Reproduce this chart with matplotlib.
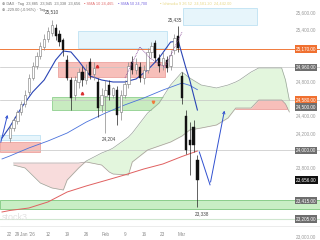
import matplotlib
matplotlib.use("Agg")
import matplotlib.pyplot as plt
import matplotlib.transforms as mtransforms
from matplotlib.patches import Rectangle
import numpy as np

plt.rcParams['font.family'] = ['Liberation Sans', 'DejaVu Sans']

# ---------------- data ----------------
# trading-day index 0 = 22 Dec 2025
date_pos = [0, 2, 4.7, 10, 15, 20, 25, 30, 35, 40, 45]
date_labels = ["22", "29", "Jan '26", "12", "19", "26", "Feb", "9", "16", "23", "Mar"]

opens = [24140, 24255, 24340, 24440, 24535, 24675, 24835, 24975, 25090, 25195,
         25285, 25355, 25415, 25345, 25275, 25045, 24810, 24640, 24790, 24905,
         24810, 25020, 24880, 24790, 24525, 24625, 24755, 24640, 24695, 24440,
         24640, 24765, 25020, 24930, 24960, 24835, 24930, 25135, 25240, 25065,
         24985, 25045, 24975, 25160, 25320, 24860, 24395, 24120, 24270, 23885]
highs = [24290, 24385, 24465, 24570, 24695, 24880, 25020, 25135, 25250, 25345,
         25425, 25510, 25460, 25390, 25300, 25100, 24845, 24860, 24950, 24975,
         24995, 25065, 25020, 24835, 24720, 24810, 24810, 24730, 24745, 24695,
         24810, 25020, 25090, 25065, 25020, 24985, 25180, 25250, 25275, 25110,
         25135, 25090, 25160, 25345, 25435, 24905, 24465, 24325, 24350, 23945]
lows = [24095, 24220, 24305, 24405, 24500, 24640, 24810, 24940, 25055, 25160,
        25250, 25320, 25275, 25205, 25090, 24810, 24465, 24580, 24720, 24745,
        24765, 24825, 24810, 24385, 24440, 24204, 24580, 24605, 24290, 24350,
        24605, 24720, 24880, 24880, 24790, 24765, 24895, 25065, 25020, 24905,
        24930, 24905, 24930, 25115, 25135, 24535, 23955, 23715, 23980, 23338]
closes = [24255, 24350, 24440, 24535, 24640, 24835, 24975, 25090, 25205, 25285,
          25380, 25450, 25320, 25250, 25160, 24835, 24605, 24810, 24905, 24810,
          24930, 24870, 24950, 24490, 24640, 24695, 24640, 24720, 24410, 24640,
          24765, 24975, 24930, 25000, 24835, 24930, 25135, 25205, 25065, 24975,
          25065, 24950, 25100, 25300, 25180, 24605, 24005, 24060, 24060, 23656]

ma_fast_idx = [-2, 0, 3, 6, 9, 12, 14, 16, 18, 21, 24, 27, 30, 33, 36, 39, 42, 44, 46, 47, 49]
ma_fast = [24142, 24269, 24488, 24673, 24812, 25043, 25147, 25136, 25032, 24858, 24812,
           24789, 24789, 24824, 24928, 25066, 25251, 25263, 24951, 24812, 24465]

ma_slow_idx = [-2, 0, 5, 10, 15, 20, 25, 30, 35, 40, 45, 47, 49]
ma_slow = [23899, 23933, 24026, 24107, 24199, 24326, 24430, 24523, 24604, 24696, 24777, 24750, 24700]

ma_long_idx = [-2, 0, 5, 10, 15, 20, 25, 30, 35, 40, 45, 49]
ma_long = [23286, 23303, 23332, 23402, 23517, 23587, 23650, 23714, 23783, 23841, 23928, 23991]

span_idx = [1, 4, 8, 11, 14, 15, 18, 20, 24, 26, 27, 31, 32, 36, 39, 42, 45, 47, 50, 54,
            57, 59, 60, 63, 65, 71, 72, 73]
span_a = [23829, 23795, 23621, 23564, 23540, 23656, 23795, 23876, 23968, 24003, 24026,
          24153, 24199, 24430, 24546, 24754, 24904, 24835, 24754, 24720, 24754, 24789,
          24812, 24904, 24951, 24951, 24812, 24581]
span_b = [23852, 23852, 23852, 23852, 23852, 23852, 23852, 23864, 23829, 23748, 23725,
          23714, 23864, 24003, 24049, 24095, 24165, 24234, 24257, 24292, 24373, 24488,
          24488, 24488, 24581, 24581, 24535, 24442]

# drawn zones: (start idx, end idx, low, high, kind)
zone_x0 = [17.8, 45.3, 12.6, 11.0, 45.0, -2.6, -2.6]
zone_x1 = [41.1, 64.6, 40.5, 45.0, 72.4, 7.9, 7.9]
zone_lo = [25182, 25448, 24847, 24465, 24477, 24118, 23980]
zone_hi = [25378, 25644, 25020, 24615, 24604, 24176, 24095]
zone_kind = ['blue', 'blue', 'red', 'green', 'red', 'blue', 'red']

band_lo, band_hi = 23320, 23430

level_vals = [25170, 24960, 24580, 24500, 24000, 23415, 23205]
level_kind = ['orange', 'gray', 'orange', 'gray', 'gray', 'gray', 'gray']

# price-axis ticks (those under a price box are left unlabelled)
axis_ticks = [23000, 23200, 23400, 23600, 23800, 24000, 24200, 24400, 24600,
              24800, 25000, 25200, 25400, 25600]
shown_ticks = [23000, 23800, 24200, 24400, 24800, 25400, 25600]

# projection drawings
arrow_l_idx = [-2.5, -0.4]
arrow_l_val = [24060, 24440]
proj_v_idx = [49.5, 52.3, 56.2]
proj_v_val = [23980, 23600, 24490]
proj_d_idx = [30.1, 34.0, 36.6, 40.5, 45.0]
proj_d_val = [24835, 25195, 25065, 24960, 25365]

marker_idx = [22.8, 18.9, 37.4]
marker_val = [24975, 24660, 24560]

# ---------------- figure ----------------
W, H = 320, 240
fig = plt.figure(figsize=(W / 100, H / 100), dpi=100)
ax = fig.add_axes([0, 0, 292 / W, 1])
ax.set_xlim(-2.53, 73.7)
ax.set_ylim(22962, 25737)
for s in ax.spines.values():
    s.set_visible(False)
ax.set_xticks([])
ax.yaxis.tick_right()
ax.set_yticks(axis_ticks)
ax.set_yticklabels([f"{v:,.2f}" if v in shown_ticks else "" for v in axis_ticks])
ax.tick_params(axis='y', length=0, pad=3, labelsize=3.3, labelcolor='#9a9a9a')

trans = mtransforms.blended_transform_factory(ax.transAxes, ax.transData)
xtrans = ax.get_xaxis_transform()

zone_style = {
    'blue': dict(fc='#e3f4fb', ec='#a8d8ee'),
    'red': dict(fc='#f6b4ae', ec='#e58a84'),
    'green': dict(fc='#bfe8b5', ec='#6cbf6c'),
}
for x0, x1, lo, hi, k in zip(zone_x0, zone_x1, zone_lo, zone_hi, zone_kind):
    st = zone_style[k]
    ax.add_patch(Rectangle((x0, lo), x1 - x0, hi - lo, fc=st['fc'], ec=st['ec'],
                           lw=0.5, alpha=0.85, zorder=1))

# full-width support band
ax.add_patch(Rectangle((0, band_lo), 1.1, band_hi - band_lo, transform=trans, clip_on=False,
                       fc='#c8eec4', ec='#7cc77c', lw=0.6, zorder=1))

# horizontal levels
line_style = {25170: ('#f07a3c', 0.7), 24960: ('#c4c4c4', 0.5), 24580: ('#c4c4c4', 0.5),
              24000: ('#c4c4c4', 0.5), 23205: ('#cfe6cf', 0.8)}
for v, (c, lw) in line_style.items():
    ax.plot([0, 1.1], [v, v], transform=trans, color=c, lw=lw, clip_on=False, zorder=1.2)

# Ichimoku cloud
sa = np.array(span_a)
sb = np.array(span_b)
ax.fill_between(span_idx, sa, sb, where=sa >= sb, interpolate=True, color='#e3f6dd', lw=0, zorder=1.1)
ax.fill_between(span_idx, sa, sb, where=sa < sb, interpolate=True, color='#f8dcdc', lw=0, zorder=1.1)
ax.plot(span_idx, sa, color='#9aa59a', lw=0.5, zorder=1.3)
ax.plot(span_idx, sb, color='#a89a9a', lw=0.5, zorder=1.3)

# moving averages
ax.plot(ma_long_idx, ma_long, color='#e06060', lw=0.7, zorder=3)
ax.plot(ma_slow_idx, ma_slow, color='#4a72dc', lw=0.6, zorder=3)
ax.plot(ma_fast_idx, ma_fast, color='#2a45b5', lw=0.8, zorder=3)

# candles
idx = np.arange(len(opens))
o = np.array(opens)
c = np.array(closes)
up = c >= o
ax.vlines(idx, lows, highs, colors=np.where(up, '#888888', '#222222'), lw=0.5, zorder=4)
ax.bar(idx[up], (c - o)[up], bottom=o[up], width=0.6, color='white', edgecolor='#777777',
       linewidth=0.4, zorder=5)
ax.bar(idx[~up], (c - o)[~up], bottom=o[~up], width=0.6, color='#111111', edgecolor='#111111',
       linewidth=0.3, zorder=5)

# projection drawings
ax.annotate('', xy=(arrow_l_idx[1], arrow_l_val[1]), xytext=(arrow_l_idx[0], arrow_l_val[0]),
            arrowprops=dict(arrowstyle='->', color='#3050d0', lw=0.7, mutation_scale=4), zorder=6)
ax.plot(proj_v_idx[:2], proj_v_val[:2], color='#3050d0', lw=0.7, zorder=6)
ax.annotate('', xy=(proj_v_idx[2], proj_v_val[2]), xytext=(proj_v_idx[1], proj_v_val[1]),
            arrowprops=dict(arrowstyle='->', color='#3050d0', lw=0.7, mutation_scale=4), zorder=6)
ax.plot(proj_d_idx, proj_d_val, color='#8a4a9a', lw=0.6, ls=(0, (1, 1)), zorder=6)
ax.plot(marker_idx[:2], marker_val[:2], ls='none', marker='^', ms=1.8, color='#d83030', zorder=6)
ax.plot(marker_idx[2:], marker_val[2:], ls='none', marker='v', ms=1.8, color='#f07a3c', zorder=6)

# extreme value labels
def tag(i, val, dx, dy, va):
    ax.annotate(f"{val:,}", (i, val), xytext=(dx, dy), textcoords='offset points',
                ha='center', va=va, fontsize=3.3, color='#444444', zorder=7)

tag(11, highs[11], 0, 4, 'bottom')
tag(44, highs[44], -2, 3, 'bottom')
tag(25, lows[25], 2.5, -3, 'top')
tag(49, lows[49], 3, -3, 'top')

# right-hand price boxes
box_col = {'orange': '#f07030', 'gray': '#6e6e6e'}
for v, k in zip(level_vals, level_kind):
    ax.text(1.013, v, f"{v:,.2f}", transform=trans, ha='left', va='center', fontsize=3.3,
            color='white', clip_on=False, zorder=8,
            bbox=dict(boxstyle='square,pad=0.25', fc=box_col[k], ec='none'))
ax.text(1.013, closes[-1], f"{closes[-1]:,.2f}", transform=trans, ha='left', va='center',
        fontsize=3.3, color='white', clip_on=False, zorder=8,
        bbox=dict(boxstyle='square,pad=0.25', fc='#111111', ec='none'))

# date axis
ax.plot([0, 1.1], [14 / H, 14 / H], transform=ax.transAxes, color='#e4e4e4', lw=0.5, clip_on=False)
for p, lab in zip(date_pos, date_labels):
    ax.text(p, 6 / H, lab, transform=xtrans, ha='center', va='center', fontsize=3.3, color='#8a8a8a')

# watermark
fig.text(2 / W, 1 - 218 / H, "stock3", fontsize=6.5, color='#e2e2e2', ha='left', va='center')

# header
fig.text(2 / W, 1 - 3.5 / H, "⊕ DAX · Tag  23,885  23,945  23,338  23,656",
         fontsize=2.8, color='#707070', ha='left', va='center')
fig.text(84 / W, 1 - 3.5 / H, "▪ SMA 10 24,465", fontsize=2.8, color='#e06b6b', ha='left', va='center')
fig.text(118 / W, 1 - 3.5 / H, "▪ SMA 50 24,700", fontsize=2.8, color='#7a6be0', ha='left', va='center')
fig.text(160 / W, 1 - 3.5 / H, "▪ Ichimoku 9 26 52  24,581.20  24,442.00", fontsize=2.8,
         color='#e8d888', ha='left', va='center')
fig.text(2 / W, 1 - 9.5 / H, "⊕ -229.00 (-0.96%) · Tag", fontsize=2.8,
         color='#707070', ha='left', va='center')

fig.savefig("out.png", dpi=100)
